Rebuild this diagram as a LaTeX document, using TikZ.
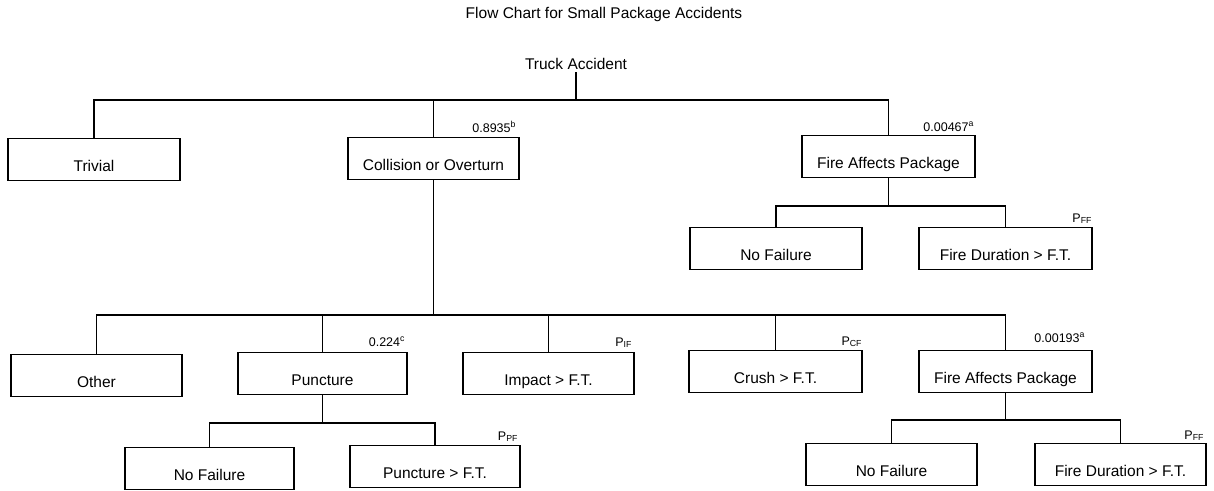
\documentclass[tikz,border=0pt]{standalone}
\usepackage{fontspec}
\setmainfont{Liberation Sans}
\usetikzlibrary{calc}
\begin{document}
\begin{tikzpicture}[x=1pt,y=-1pt,
  line width=1.1pt,
  box/.style={draw, line width=1.1pt, anchor=north, minimum width=172pt,
    inner ysep=0pt, text height=33pt, text depth=9pt,
    font=\fontsize{15.5}{18}\selectfont},
  lbl/.style={anchor=base east, inner sep=0pt, font=\fontsize{12.5}{14}\selectfont},
  plain/.style={font=\fontsize{15.5}{18}\selectfont, inner sep=2pt}]
\useasboundingbox (0,0) rectangle (1214,490);
\fill[white] (0,0) rectangle (1214,490);

% title
\node[plain] (title) at (604,14) {Flow Chart for Small Package Accidents};
\node[plain] (ta) at (576,64) {Truck Accident};

% level 1
\node[box] (triv) at (94,138) {Trivial};
\node[box, minimum width=171pt] (coll) at (433.5,137) {Collision or Overturn};
\node[box, minimum width=173pt] (fire1) at (888.5,135) {Fire Affects Package};

% level 2 (fire 1)
\node[box] (nf1) at (776,227) {No Failure};
\node[box, minimum width=173pt] (fd1) at (1005.5,227) {Fire Duration > F.T.};

% level 2 (collision)
\node[box, minimum width=171pt] (other) at (96.5,354) {Other};
\node[box, minimum width=169pt] (punc) at (322.5,352) {Puncture};
\node[box, minimum width=171pt] (imp) at (548.5,352) {Impact > F.T.};
\node[box, minimum width=173pt] (crush) at (775.5,350) {Crush > F.T.};
\node[box, minimum width=173pt] (fire2) at (1005.5,350) {Fire Affects Package};

% level 3
\node[box, minimum width=169pt] (nf2) at (209.5,447) {No Failure};
\node[box, minimum width=170pt] (pft) at (435,445) {Puncture > F.T.};
\node[box, minimum width=171pt] (nf3) at (891.5,443) {No Failure};
\node[box, minimum width=171pt] (fd2) at (1120.5,443) {Fire Duration > F.T.};

% labels
\node[lbl] (l1) at ($(coll.north east)+(-3,-5)$) {0.8935\textsuperscript{b}};
\node[lbl] (l2) at ($(fire1.north east)+(-1,-4)$) {0.00467\textsuperscript{a}};
\node[lbl] (l3) at ($(fd1.north east)+(0,-5)$) {P\textsubscript{FF}};
\node[lbl] (l4) at ($(punc.north east)+(-2,-6)$) {0.224\textsuperscript{c}};
\node[lbl] (l5) at ($(imp.north east)+(-2,-6)$) {P\textsubscript{IF}};
\node[lbl] (l6) at ($(crush.north east)+(0,-5)$) {P\textsubscript{CF}};
\node[lbl] (l7) at ($(fire2.north east)+(-7,-8)$) {0.00193\textsuperscript{a}};
\node[lbl] (l8) at ($(pft.north east)+(-2,-5)$) {P\textsubscript{PF}};
\node[lbl] (l9) at ($(fd2.north east)+(-2,-4)$) {P\textsubscript{FF}};

% bus coordinates
\coordinate (b1) at (0,100);
\coordinate (b2) at (0,206);
\coordinate (b3) at (0,315);
\coordinate (b4) at (0,423);
\coordinate (b5) at (0,420);

% connectors: truck accident
\draw (ta.south) -- (ta.south |- b1);
\draw (triv.north) |- (fire1.north |- b1) -- (fire1.north);
\draw (coll.north) -- (coll.north |- b1);

% fire 1
\draw (fire1.south) -- (fire1.south |- b2);
\draw (nf1.north) |- (fd1.north |- b2) -- (fd1.north);

% collision
\draw (coll.south) -- (coll.south |- b3);
\draw (other.north) |- (fire2.north |- b3) -- (fire2.north);
\draw (punc.north) -- (punc.north |- b3);
\draw (imp.north) -- (imp.north |- b3);
\draw (crush.north) -- (crush.north |- b3);

% puncture
\draw (punc.south) -- (punc.south |- b4);
\draw (nf2.north) |- (pft.north |- b4) -- (pft.north);

% fire 2
\draw (fire2.south) -- (fire2.south |- b5);
\draw (nf3.north) |- (fd2.north |- b5) -- (fd2.north);
\end{tikzpicture}
\end{document}
